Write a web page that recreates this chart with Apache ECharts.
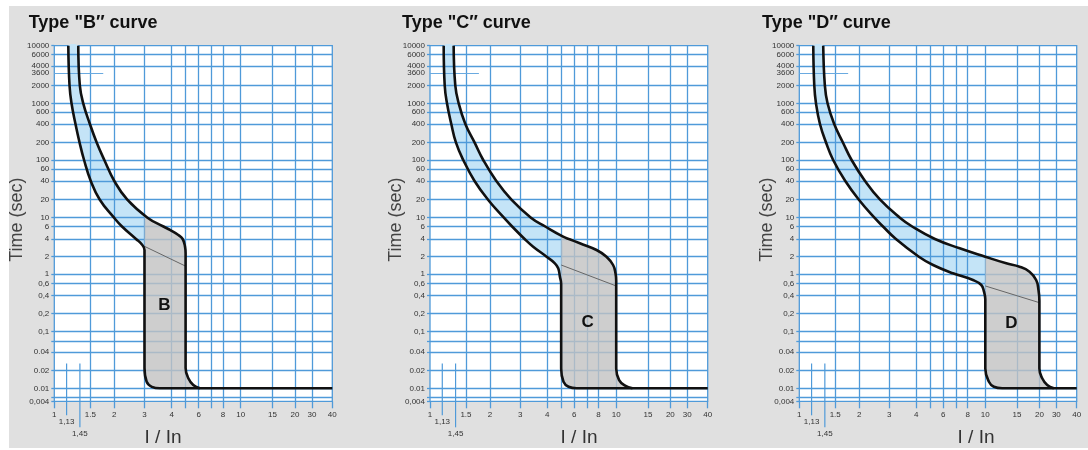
<!DOCTYPE html>
<html><head><meta charset="utf-8">
<script src="https://cdn.jsdelivr.net/npm/echarts@6/dist/echarts.min.js"></script>
<style>html,body{margin:0;padding:0;background:#fff}</style>
</head><body>
<div style="position:relative;width:1088px;height:450px">
  <div style="position:absolute;left:9px;top:6px;width:1079px;height:442px;background:#e0e0e0"></div>
  <div id="c" style="position:absolute;left:0;top:0;width:1088px;height:450px"></div>
</div>
<script>
// ---------- axis scale definitions (value -> axis units) ----------
const X_SCALE_STOPS = [[1,0],[1.13,12.3],[1.45,25.6],[1.5,36],[2,60],[3,90.2],[4,117.3],[5,131.3],[6,144.3],[7,157],[8,168.7],[10,186.4],[15,218.2],[20,240.6],[30,257.6],[40,278]];
const Y_SCALE_STOPS = [[0.004,0],[0.005,4],[0.01,13],[0.02,30.8],[0.04,49.3],[0.06,60.3],[0.1,69.8],[0.2,87.8],[0.4,105.6],[0.6,117.6],[1,127.3],[2,144.6],[4,162.3],[6,174.8],[10,183.6],[20,201.6],[40,220.3],[60,232.3],[100,241.3],[200,258.6],[400,277.3],[600,289.1],[1000,298],[2000,316],[3600,328.3],[4000,335.3],[6000,347],[10000,355.6]];

// ---------- ticks / labels ----------
const X_TICKS = [1,1.5,2,3,4,6,8,10,15,20,30,40];
const X_TICK_LABELS = ['1','1.5','2','3','4','6','8','10','15','20','30','40'];
const X_GRID = [1,1.5,2,3,4,5,6,7,8,10,15,20,30,40];
const X_MARKERS = [1.13,1.45];
const X_MARKER_LABELS = ['1,13','1,45'];
const Y_TICKS = [10000,6000,4000,3600,2000,1000,600,400,200,100,60,40,20,10,6,4,2,1,0.6,0.4,0.2,0.1,0.04,0.02,0.01,0.004];
const Y_TICK_LABELS = ['10000','6000','4000','3600','2000','1000','600','400','200','100','60','40','20','10','6','4','2','1','0,6','0,4','0,2','0,1','0.04','0.02','0.01','0,004'];
const Y_GRID = [6000,4000,2000,1000,600,400,200,100,60,40,20,10,6,4,2,1,0.6,0.4,0.2,0.1,0.06,0.04,0.02,0.01,0.005];
const HOUR_MARK = [3600, 1.77]; // [time, I/In end of short line]
const MARKER_TOP = 0.026;

// ---------- curves [I/In, time s] ----------
const B_LOWER = [[1.171,10000],[1.200,2000],[1.248,1000],[1.344,400],[1.443,200],[1.470,100],[1.510,40],[1.698,20],[1.994,10],[2.255,6],[2.718,4],[2.90,3.29],[3.0,2.6],[3.0,0.022],[3.08,0.0129],[3.27,0.0106],[3.57,0.01],[40,0.01]];
const B_UPPER = [[1.411,10000],[1.448,2000],[1.466,1000],[1.498,400],[1.635,200],[1.792,100],[2.0,40],[2.430,20],[3.11,10],[3.70,6],[3.94,5.36],[4.48,4.55],[4.79,4],[4.96,2.96],[5.0,2.28],[5.0,0.022],[5.21,0.0148],[5.59,0.0114],[6.11,0.01]];
const B_THIN = [[3,3.0],[5,1.37]];
const B_LETTER = [3.73,0.279];

const C_LOWER = [[1.164,10000],[1.188,2000],[1.243,1000],[1.347,400],[1.452,200],[1.487,100],[1.679,40],[1.960,20],[2.463,10],[2.735,6],[3.166,4],[3.483,2.96],[3.978,2],[4.55,1.535],[4.79,1.256],[4.91,0.868],[5.0,0.6],[5.0,0.0215],[5.18,0.0129],[5.57,0.0106],[6.21,0.01],[40,0.01]];
const C_UPPER = [[1.404,10000],[1.443,2000],[1.465,1000],[1.497,400],[1.681,200],[1.860,100],[2.212,40],[2.712,20],[3.40,10],[3.93,6],[5.15,4.31],[5.60,4],[6.45,3.38],[7.83,2.60],[8.90,2],[9.65,1.434],[9.92,1.03],[10.0,0.7],[10.0,0.0215],[10.46,0.0138],[11.40,0.0111],[12.56,0.01]];
const C_THIN = [[5,1.434],[10,0.556]];
const C_LETTER = [7.06,0.14];

const D_LOWER = [[1.171,10000],[1.195,2000],[1.236,1000],[1.332,400],[1.456,200],[1.490,100],[1.710,40],[1.994,20],[2.506,10],[2.791,6],[3.244,4],[4.18,2],[5.21,1.434],[6.76,1.028],[8.60,0.729],[9.55,0.574],[9.85,0.458],[10.0,0.35],[10.0,0.0215],[10.57,0.0129],[11.35,0.0106],[12.67,0.01],[40,0.01]];
const D_UPPER = [[1.411,10000],[1.45,2000],[1.463,1000],[1.495,400],[1.663,200],[1.842,100],[2.195,40],[2.695,20],[3.39,10],[3.845,6],[5.354,4],[7.32,2.78],[9.99,2],[13.30,1.535],[15.56,1.34],[17.79,1.097],[19.28,0.729],[19.8,0.485],[20,0.33],[20,0.0215],[21.65,0.0148],[24.6,0.0114],[28.5,0.01]];
const D_THIN = [[10,0.556],[20,0.305]];
const D_LETTER = [14.1,0.137];

const PANELS = [
  {title:'Type "B\u2033 curve', letter:'B', lower:B_LOWER, upper:B_UPPER, thin:B_THIN, mag:3,  letterAt:B_LETTER},
  {title:'Type "C\u2033 curve', letter:'C', lower:C_LOWER, upper:C_UPPER, thin:C_THIN, mag:5,  letterAt:C_LETTER},
  {title:'Type "D\u2033 curve', letter:'D', lower:D_LOWER, upper:D_UPPER, thin:D_THIN, mag:10, letterAt:D_LETTER}
];

// ---------- layout / style ----------
const LAYOUT = [
  {left:54.3, width:278,   titleX:28.7, nameX:17.2,  unitX:163},
  {left:430,  width:277.7, titleX:402,  nameX:395.8, unitX:579},
  {left:799.3,width:277.4, titleX:762,  nameX:766.8, unitX:976}
];
const GRID_TOP = 45.7, GRID_H = 355.6;
const FONT = "'Liberation Sans', Arial, Helvetica, sans-serif";
const LINE_BLUE = '#4f9ad9';
const BLUE_FILL = '#c4e4f7';
const GRAY_FILL = '#c2c2c2';

// ---------- scale helpers ----------
function interp(stops, k){
  for (let i=0;i<stops.length-1;i++){
    const a=stops[i], b=stops[i+1];
    if (k<=b[0] || i===stops.length-2) return a[1]+(b[1]-a[1])*(k-a[0])/(b[0]-a[0]);
  }
}
const XS = X_SCALE_STOPS, YS = Y_SCALE_STOPS.map(s=>[Math.log10(s[0]), s[1]]);
const fx = x => interp(XS, x);
const fy = t => interp(YS, Math.log10(t));
const X_MAX = fx(40), Y_MAX = fy(10000);
const toAxis = p => [fx(p[0]), fy(p[1])];
function labelFor(v, pos, labels){
  let best=0, d=Infinity;
  pos.forEach((p,i)=>{ const dd=Math.abs(p-v); if(dd<d){d=dd;best=i;} });
  return labels[best];
}
function splitAt(curve, um){
  const left=[], right=[]; let crossed=false;
  for (let i=0;i<curve.length;i++){
    const p=curve[i];
    if (!crossed){
      if (p[0] < um-1e-9) left.push(p);
      else {
        let c;
        if (Math.abs(p[0]-um)<1e-9 || i===0) c=[um,p[1]];
        else { const q=curve[i-1]; const f=(um-q[0])/(p[0]-q[0]); c=[um, q[1]+f*(p[1]-q[1])]; }
        left.push(c); right.push(c);
        if (Math.abs(p[0]-um)>1e-9) right.push(p);
        crossed=true;
      }
    } else right.push(p);
  }
  return {left,right};
}

const option = {animation:false, title:[], grid:[], xAxis:[], yAxis:[], series:[]};
const xTickPos = X_TICKS.map(fx), yTickPos = Y_TICKS.map(fy);

PANELS.forEach((p,i)=>{
  const L = LAYOUT[i];
  option.title.push({text:p.title, left:L.titleX, top:14, padding:0,
    textStyle:{fontSize:18, fontWeight:'bold', color:'#111', fontFamily:FONT}});
  option.grid.push({left:L.left, width:L.width, top:GRID_TOP, height:GRID_H, show:true,
    backgroundColor:'#fff', borderColor:LINE_BLUE, borderWidth:1.3});
  option.xAxis.push({gridIndex:i, type:'value', min:0, max:X_MAX,
    splitLine:{show:false}, axisLine:{show:false},
    axisTick:{show:true, customValues:X_GRID.map(fx), length:7, lineStyle:{color:LINE_BLUE, width:1.3}},
    axisLabel:{customValues:xTickPos, formatter:v=>labelFor(v,xTickPos,X_TICK_LABELS), margin:9,
      fontSize:8, color:'#333', fontFamily:FONT, showMinLabel:true, showMaxLabel:true}});
  option.yAxis.push({gridIndex:i, type:'value', min:0, max:Y_MAX,
    splitLine:{show:false}, axisLine:{show:false},
    axisTick:{show:true, customValues:Y_GRID.concat([0.004,10000]).map(fy), length:3, lineStyle:{color:LINE_BLUE, width:1.3}},
    axisLabel:{customValues:yTickPos, formatter:v=>labelFor(v,yTickPos,Y_TICK_LABELS), margin:5,
      fontSize:8, color:'#333', fontFamily:FONT, showMinLabel:true, showMaxLabel:true}});

  const U = p.upper.map(toAxis), Lw = p.lower.map(toAxis);
  const um = fx(p.mag);
  const su = splitAt(U, um), sl = splitAt(Lw, um);
  const bluePoly = su.left.concat(sl.left.slice().reverse());
  const endU = su.right[su.right.length-1][0];
  const grayPoly = su.right.concat(sl.right.filter(q=>q[0]<=endU+1e-9).reverse());

  option.series.push({type:'custom', xAxisIndex:i, yAxisIndex:i, z:1, silent:true, data:[[0,0]],
    renderItem:(params,api)=>({type:'polygon', shape:{points:bluePoly.map(q=>api.coord(q)), smooth:0.3}, style:{fill:BLUE_FILL}})});
  option.series.push({type:'line', xAxisIndex:i, yAxisIndex:i, z:2, silent:true, data:[],
    markLine:{silent:true, symbol:['none','none'], label:{show:false}, animation:false,
      lineStyle:{color:LINE_BLUE, width:1.3, type:'solid'}, emphasis:{disabled:true},
      data: X_GRID.slice(1,-1).map(x=>({xAxis:fx(x)}))
        .concat(Y_GRID.map(t=>({yAxis:fy(t)})))
        .concat([[{coord:[0,fy(HOUR_MARK[0])]},{coord:[fx(HOUR_MARK[1]),fy(HOUR_MARK[0])], lineStyle:{color:'#6aaae0', width:1}}]])}});
  option.series.push({type:'custom', xAxisIndex:i, yAxisIndex:i, z:20, silent:true, data:[[0,0]],
    renderItem:(params,api)=>({type:'polygon', shape:{points:grayPoly.map(q=>api.coord(q))}, style:{fill:GRAY_FILL, opacity:0.8}})});
  option.series.push({type:'line', xAxisIndex:i, yAxisIndex:i, z:21, silent:true, data:p.thin.map(toAxis),
    symbol:'none', lineStyle:{color:'#666', width:1}});
  [Lw, U].forEach(c=>option.series.push({type:'line', xAxisIndex:i, yAxisIndex:i, z:22, silent:true,
    data:c, symbol:'none', smooth:0.45, lineStyle:{color:'#111', width:2.6}}));
});

const chart = echarts.init(document.getElementById('c'), null, {renderer:'canvas'});
chart.setOption(option);

const graphics = [];
PANELS.forEach((p,i)=>{
  const L = LAYOUT[i];
  graphics.push({type:'text', x:L.nameX, y:219.7, rotation:Math.PI/2, z:30,
    style:{text:'Time (sec)', fontSize:18, fontFamily:FONT, fill:'#444', align:'center', verticalAlign:'middle', textAlign:'center', textVerticalAlign:'middle'}});
  graphics.push({type:'text', x:L.unitX, y:437.4, z:30,
    style:{text:'I / In', fontSize:19, fontFamily:FONT, fill:'#333', align:'center', verticalAlign:'middle', textAlign:'center', textVerticalAlign:'middle'}});
  const lp = chart.convertToPixel({gridIndex:i}, toAxis(p.letterAt));
  graphics.push({type:'text', x:lp[0], y:lp[1], z:30,
    style:{text:p.letter, fontSize:17, fontWeight:'bold', fontFamily:FONT, fill:'#111', align:'center', verticalAlign:'middle', textAlign:'center', textVerticalAlign:'middle'}});
  X_MARKERS.forEach((m,k)=>{
    const top = chart.convertToPixel({gridIndex:i}, [fx(m), fy(MARKER_TOP)]);
    const bot = chart.convertToPixel({gridIndex:i}, [fx(m), 0]);
    const ext = k===0 ? 14 : 26;
    graphics.push({type:'line', z:30, shape:{x1:top[0], y1:top[1], x2:top[0], y2:bot[1]+ext},
      style:{stroke:LINE_BLUE, lineWidth:1.2}});
    graphics.push({type:'text', x:top[0], y:bot[1]+ext+6, z:30,
      style:{text:X_MARKER_LABELS[k], fontSize:8, fontFamily:FONT, fill:'#333', align:'center', verticalAlign:'middle', textAlign:'center', textVerticalAlign:'middle'}});
  });
});
chart.setOption({graphic:graphics});
</script>
</body></html>
